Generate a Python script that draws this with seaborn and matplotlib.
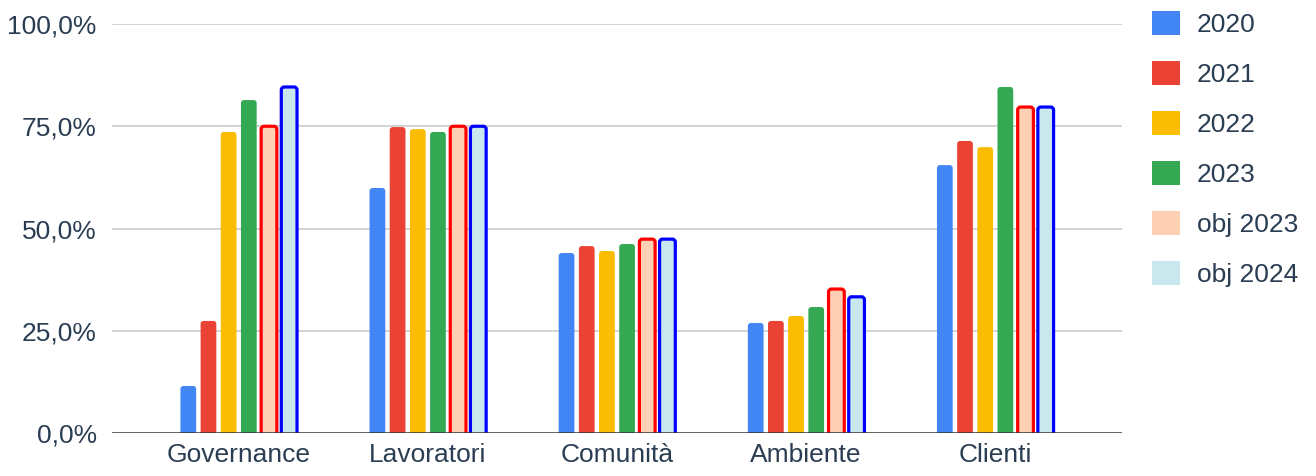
import matplotlib
matplotlib.use('Agg')
import matplotlib.pyplot as plt
from matplotlib.patches import FancyBboxPatch, Patch, BoxStyle
from matplotlib.ticker import FuncFormatter
import seaborn as sns
import pandas as pd

# Data (percent)
categories = ['Governance', 'Lavoratori', 'Comunità', 'Ambiente', 'Clienti']
series = ['2020', '2021', '2022', '2023', 'obj 2023', 'obj 2024']
v2020 = [11.5, 59.9, 44.0, 26.9, 65.5]
v2021 = [27.4, 74.8, 45.7, 27.4, 71.4]
v2022 = [73.6, 74.3, 44.5, 28.6, 69.9]
v2023 = [81.4, 73.6, 46.2, 30.8, 84.6]
obj2023 = [75.0, 75.0, 47.4, 35.2, 79.7]
obj2024 = [84.6, 75.0, 47.4, 33.3, 79.7]

fill_colors = ['#4285F4', '#EA4335', '#FBBC04', '#34A853', '#FDD0B3', '#C8E8EE']
edge_colors = [None, None, None, None, '#FF0000', '#0000FF']
text_color = '#2a3d52'

rows = []
for name, vals in zip(series, [v2020, v2021, v2022, v2023, obj2023, obj2024]):
    for cat, v in zip(categories, vals):
        rows.append({'categoria': cat, 'serie': name, 'valore': v})
df = pd.DataFrame(rows)

sns.set_style('white')
plt.rcParams['font.family'] = ['Liberation Sans', 'DejaVu Sans']

W, H = 1316, 476
fig = plt.figure(figsize=(W / 100, H / 100), dpi=100)
left, right, top, bottom = 112, 1122, 24, 433
ax = fig.add_axes([left / W, 1 - bottom / H, (right - left) / W, (bottom - top) / H])

sns.barplot(data=df, x='categoria', y='valore', hue='serie', order=categories,
            hue_order=series, palette=fill_colors, width=0.64, gap=0.22,
            legend=False, ax=ax, saturation=1)

xmin, xmax = -0.67, 4.67
ax.set_xlim(xmin, xmax)
ax.set_ylim(0, 100)

# rounded tops like the original
ppx = (right - left) / (xmax - xmin)
ppy = (bottom - top) / 100.0
aspect = ppx / ppy
r = 3.0 / ppx
for i, cont in enumerate(ax.containers):
    for p in cont.patches:
        x, w, h = p.get_x(), p.get_width(), p.get_height()
        p.remove()
        ec = edge_colors[i]
        fb = FancyBboxPatch((x, -2), w, h + 2,
                            boxstyle=BoxStyle.Round(pad=0, rounding_size=r),
                            mutation_aspect=aspect,
                            facecolor=fill_colors[i],
                            edgecolor=ec if ec else 'none',
                            linewidth=2.3 if ec else 0, zorder=3)
        ax.add_patch(fb)

for y in [25, 50, 75, 100]:
    ax.axhline(y, color='#cccccc', linewidth=1.2, zorder=1)
ax.axhline(0, color='#333333', linewidth=1.8, zorder=4)

ax.set_yticks([0, 25, 50, 75, 100])
ax.yaxis.set_major_formatter(FuncFormatter(lambda v, pos: f'{v:.1f}%'.replace('.', ',')))
ax.tick_params(axis='y', length=0, pad=11, labelsize=19, labelcolor=text_color)
ax.tick_params(axis='x', length=0, pad=7, labelsize=19, labelcolor=text_color)
ax.set_xlabel('')
ax.set_ylabel('')
for s in ax.spines.values():
    s.set_visible(False)

handles = [Patch(facecolor=c, edgecolor='none', label=s) for c, s in zip(fill_colors, series)]
fig.legend(handles=handles, loc='upper left', bbox_to_anchor=(1152 / W, 1 - 11 / H),
           frameon=False, fontsize=19, labelcolor=text_color,
           handlelength=1.05, handleheight=1.05, handletextpad=0.66,
           labelspacing=0.9, borderpad=0, borderaxespad=0)

fig.savefig('out.png', dpi=100)
